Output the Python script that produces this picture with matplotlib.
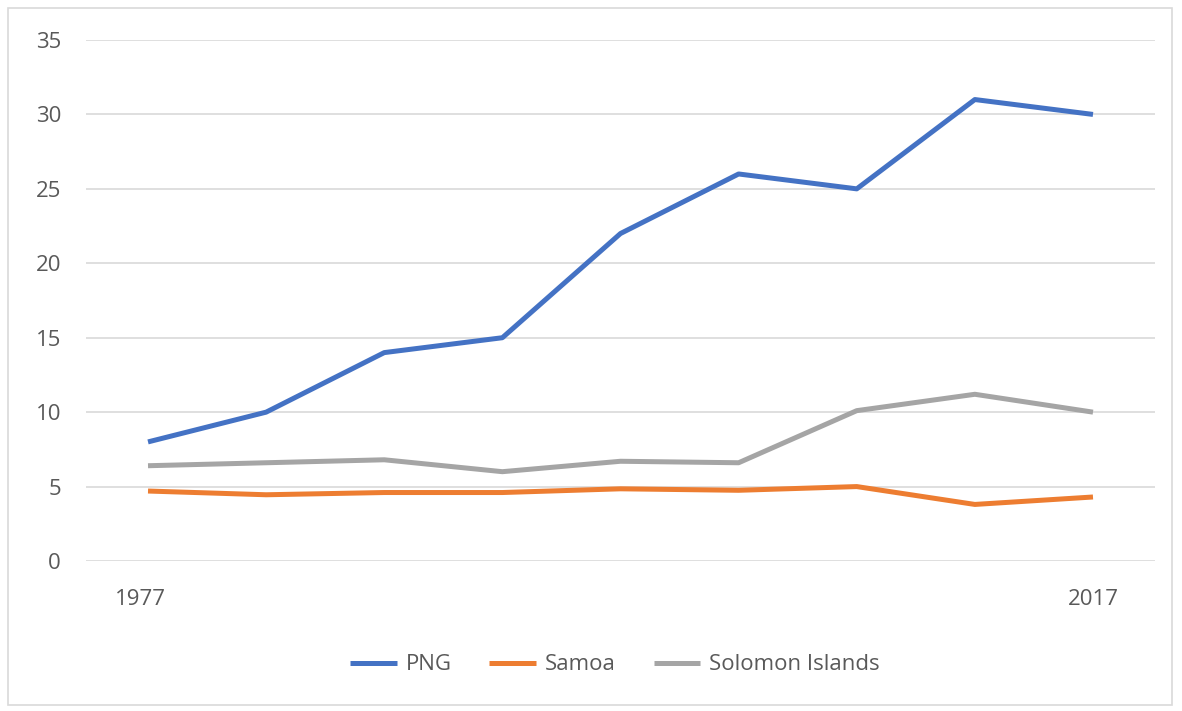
import matplotlib
matplotlib.use("Agg")
import matplotlib.pyplot as plt
from matplotlib.patches import Rectangle

years = [1977, 1982, 1987, 1992, 1997, 2002, 2007, 2012, 2017]
png = [8.0, 10.0, 14.0, 15.0, 22.0, 26.0, 25.0, 31.0, 30.0]
samoa = [4.7, 4.45, 4.6, 4.6, 4.85, 4.75, 5.0, 3.8, 4.3]
solomon = [6.4, 6.6, 6.8, 6.0, 6.7, 6.6, 10.1, 11.2, 10.0]
tick_labels = ["1977", "2017"]

plt.rcParams['font.family'] = ['Open Sans', 'DejaVu Sans']

fig = plt.figure(figsize=(11.82, 7.11), dpi=100)
ax = fig.add_axes([86/1182, (711-561)/711, (1155-86)/1182, (561-40)/711])

x = list(range(len(years)))
kw = dict(lw=3.6, solid_joinstyle="round", solid_capstyle="butt")
ax.plot(x, png, color="#4472C4", label="PNG", **kw)
ax.plot(x, samoa, color="#ED7D31", label="Samoa", **kw)
ax.plot(x, solomon, color="#A5A5A5", label="Solomon Islands", **kw)

ax.set_xlim(-0.525, 8.525)
ax.set_ylim(0, 35)
ax.set_yticks(range(0, 36, 5))
ax.set_xticks([-0.06, 8])
ax.set_xticklabels(tick_labels)
ax.grid(axis="y", color="#D9D9D9", lw=1.2)
ax.set_axisbelow(True)
for s in ax.spines.values():
    s.set_visible(False)
ax.tick_params(axis="both", length=0, labelsize=16, colors="#595959")
ax.tick_params(axis="y", pad=18)
ax.tick_params(axis="x", pad=20)

leg = fig.legend(loc="center", bbox_to_anchor=(615/1182, 1-665/711), ncol=3, frameon=False,
                 fontsize=16, handlelength=2.1, columnspacing=1.7, handletextpad=0.4)
for t in leg.get_texts():
    t.set_color("#595959")

fig.patches.append(Rectangle((8/1182, 1-705/711), (1172-8)/1182, (705-8)/711,
                             transform=fig.transFigure, fill=False, edgecolor="#D9D9D9", lw=1.2))

fig.savefig("out.png", dpi=100)
